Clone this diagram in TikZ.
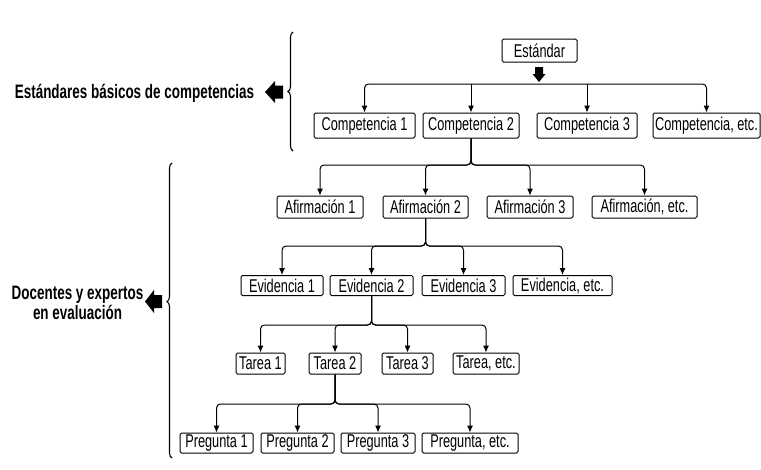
\documentclass[tikz,border=0pt]{standalone}
\usepackage{fontspec}
\setmainfont{Liberation Sans}[FakeStretch=0.69]
\usetikzlibrary{arrows.meta,decorations.pathreplacing}

\begin{document}
\begin{tikzpicture}[x=1pt, y=-1pt, line width=1pt, >={Latex[length=7pt,width=6pt]},
	box/.style={draw, rounded corners=1.5pt, inner xsep=2pt, inner ysep=0.5pt, minimum height=20pt, font=\fontsize{18.5}{20}\selectfont},
	link/.style={->, rounded corners=4pt},
	tag/.style={font=\fontsize{19.5}{20.5}\selectfont\bfseries, align=center},
	klammer/.style={decorate, decoration={brace, amplitude=5pt}, line width=1.1pt}]

\useasboundingbox (0,0) rectangle (761,469);

	\node[box, minimum width=75pt, minimum height=23pt] (std) at(539.5,50.5) {Estándar};

	\node[box, minimum width=101pt, minimum height=25pt] (comp1) at(364.5,125.5) {Competencia 1};
	\node[box, minimum width=96pt, minimum height=25pt] (comp2) at(471,125.5) {Competencia 2};
	\node[box, minimum width=100pt, minimum height=25pt] (comp3) at(587,125.5) {Competencia 3};
	\node[box, minimum width=107pt, minimum height=25pt] (competc) at(706.5,125.5) {Competencia, etc.};

	\node[box, minimum width=86pt, minimum height=22pt] (afi1) at(320,207) {Afirmación 1};
	\node[box, minimum width=85pt, minimum height=22pt] (afi2) at(425.5,207) {Afirmación 2};
	\node[box, minimum width=86pt, minimum height=22pt] (afi3) at(530,207) {Afirmación 3};
	\node[box, minimum width=105pt, minimum height=22pt] (afietc) at(644.5,207) {Afirmación, etc.};

	\node[box, minimum width=82pt] (evi1) at(282,285.5) {Evidencia 1};
	\node[box, minimum width=83pt] (evi2) at(371.5,285.5) {Evidencia 2};
	\node[box, minimum width=83pt] (evi3) at(463.5,285.5) {Evidencia 3};
	\node[box, minimum width=99pt] (evietc) at(562.5,285.5) {Evidencia, etc.};

	\node[box, minimum width=49pt, minimum height=21pt] (tar1) at(260.5,363.5) {Tarea 1};
	\node[box, minimum width=52pt, minimum height=21pt] (tar2) at(335,363.5) {Tarea 2};
	\node[box, minimum width=51pt, minimum height=21pt] (tar3) at(407.5,363.5) {Tarea 3};
	\node[box, minimum width=66pt, minimum height=21pt] (taretc) at(486,363.5) {Tarea, etc.};

	\node[box, minimum width=73pt] (preg1) at(216.5,443) {Pregunta 1};
	\node[box, minimum width=73pt] (preg2) at(297.5,443) {Pregunta 2};
	\node[box, minimum width=74pt] (preg3) at(378,443) {Pregunta 3};
	\node[box, minimum width=96pt] (pregetc) at(470,443) {Pregunta, etc.};

% Verteilung unter Estandar
\fill (539,82) -- ++(-6.5,-8) -- ++(2.5,0) -- ++(0,-7) -- ++(8,0) -- ++(0,7) -- ++(2.5,0) -- cycle;
\coordinate (compbar) at(539,84);
\draw[link] (compbar) -| (comp1);
\draw[link] (compbar) -| (competc);
\draw[->] (comp2 |- compbar) -- (comp2);
\draw[->] (comp3 |- compbar) -- (comp3);

% Baum
\coordinate (afibar) at(0,165);
\coordinate (evibar) at(0,246);
\coordinate (tarbar) at(0,325);
\coordinate (pregbar) at(0,404);
\foreach \k in {afi1,afi2,afi3,afietc}
	\draw[link] (comp2.south) -- (comp2.south |- afibar) -| (\k);
\foreach \k in {evi1,evi2,evi3,evietc}
	\draw[link] (afi2.south) -- (afi2.south |- evibar) -| (\k);
\foreach \k in {tar1,tar2,tar3,taretc}
	\draw[link] (evi2.south) -- (evi2.south |- tarbar) -| (\k);
\foreach \k in {preg1,preg2,preg3,pregetc}
	\draw[link] (tar2.south) -- (tar2.south |- pregbar) -| (\k);

% Klammern links
\draw[klammer] (293,151) -- (293,32);
\draw[klammer, decoration={aspect=0.53}] (172,458) -- (172,163);

\fill (265,92) -- ++(10,-11) -- ++(0,4.5) -- ++(8,0) -- ++(0,13) -- ++(-8,0) -- ++(0,4.5) -- cycle;
\fill (145,301.5) -- ++(9,-11.5) -- ++(0,5) -- ++(8,0) -- ++(0,13) -- ++(-8,0) -- ++(0,5) -- cycle;

\node[tag, anchor=east] (lab1) at(258,93) {Estándares básicos de competencias};
\node[tag] (lab2) at(77.5,303) {Docentes y expertos\\en evaluación};
\end{tikzpicture}
\end{document}
